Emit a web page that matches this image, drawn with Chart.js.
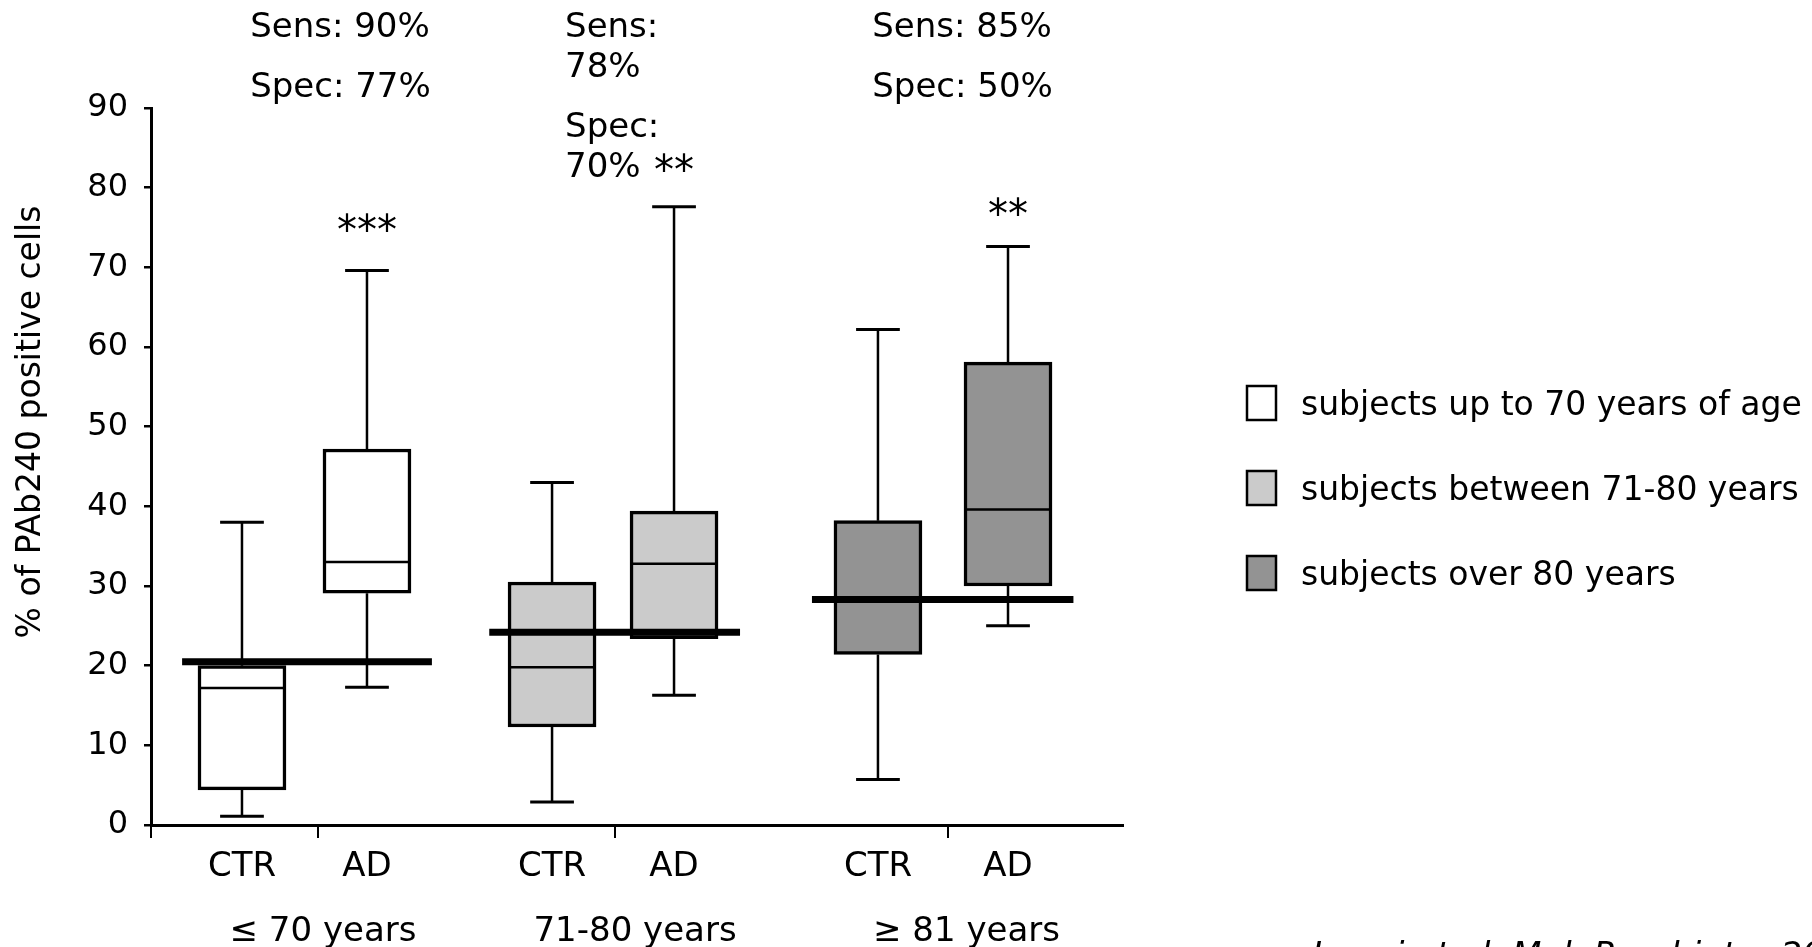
<!DOCTYPE html>
<html>
<head>
<meta charset="utf-8">
<title>PAb240 positive cells by age group</title>
<script src="https://cdn.jsdelivr.net/npm/chart.js@4.4.1/dist/chart.umd.min.js"></script>
<style>
  html, body { margin: 0; padding: 0; background: #fff; }
  canvas { display: block; }
</style>
</head>
<body>
<canvas id="chart" width="1812" height="947"></canvas>
<script>
const FONT = '"DejaVu Sans", Verdana, sans-serif';

const groupLabels = ['≤ 70 years', '71-80 years', '≥ 81 years'];
const legendLabels = ['subjects up to 70 years of age', 'subjects between 71-80 years', 'subjects over 80 years'];
const groupColors = ['#ffffff', '#cbcbcb', '#939393'];
const boxLabels = ['CTR', 'AD', 'CTR', 'AD', 'CTR', 'AD'];

// positions on a 0-100 x axis
const boxX = [9.36, 22.22, 41.26, 53.81, 74.79, 88.17];
const groupX = [17.7, 49.8, 83.9];
const groupTicks = [0, 17.2, 47.7, 82.0];
const statX = [10.2, 42.6, 74.2];

// box plot values (% of PAb240 positive cells)
const whiskerLow = [1.1, 17.3, 2.9, 16.3, 5.7, 25.0];
const q1 = [4.4, 29.1, 12.3, 23.4, 21.4, 30.0];
const median = [17.2, 33.0, 19.8, 32.8, 28.3, 39.6];
const q3 = [20.0, 47.2, 30.5, 39.4, 38.2, 58.1];
const whiskerHigh = [38.0, 69.6, 43.0, 77.6, 62.2, 72.6];

// cut-off line per age group
const cutoff = [20.5, 24.2, 28.3];
const cutoffFrom = [3.2, 34.8, 68.0];
const cutoffTo = [28.9, 60.6, 94.9];

const sens = ['90%', '78%', '85%'];
const spec = ['77%', '70%', '50%'];
const wrapStats = [false, true, false];
const stars = ['***', '**', '**'];
const starY = [72.9, 80.5, 75.0];

const BOX_HALF = 4.5;
const CAP_HALF = 2.25;

function segments(list) {
  const pts = [];
  list.forEach(([x1, y1, x2, y2]) => {
    pts.push({ x: x1, y: y1 }, { x: x2, y: y2 }, { x: x2, y: null });
  });
  return pts;
}

const whiskerSegs = [];
const capSegs = [];
const medianSegs = [];
boxX.forEach((c, i) => {
  whiskerSegs.push([c, whiskerLow[i], c, q1[i]], [c, q3[i], c, whiskerHigh[i]]);
  capSegs.push([c - CAP_HALF, whiskerLow[i], c + CAP_HALF, whiskerLow[i]],
               [c - CAP_HALF, whiskerHigh[i], c + CAP_HALF, whiskerHigh[i]]);
  medianSegs.push([c - BOX_HALF, median[i], c + BOX_HALF, median[i]]);
});
const cutoffSegs = cutoff.map((v, g) => [cutoffFrom[g], v, cutoffTo[g], v]);

const boxDatasets = groupLabels.map((_, g) => ({
  type: 'bar',
  label: legendLabels[g],
  data: [0, 1].map((k) => {
    const i = g * 2 + k;
    return { x: boxX[i], y: [q1[i], q3[i]] };
  }),
  backgroundColor: groupColors[g],
  borderColor: '#000',
  borderWidth: 3.5,
  borderSkipped: false,
  barThickness: 88,
  grouped: false,
  order: 3,
}));

function lineSet(label, segs, width, order) {
  return {
    type: 'line',
    label,
    data: segments(segs),
    borderColor: '#000',
    borderWidth: width,
    pointRadius: 0,
    tension: 0,
    spanGaps: false,
    order,
  };
}

const sideLegend = {
  id: 'sideLegend',
  afterDraw(chart) {
    const { ctx, chartArea } = chart;
    const left = chartArea.right + 124;
    ctx.save();
    ctx.font = `33px ${FONT}`;
    chart.data.datasets.filter((d) => d.type === 'bar').forEach((d, i) => {
      const cy = 403 + i * 85;
      ctx.fillStyle = d.backgroundColor;
      ctx.fillRect(left, cy - 17, 29, 34);
      ctx.strokeStyle = '#000';
      ctx.lineWidth = 2.5;
      ctx.strokeRect(left, cy - 17, 29, 34);
      ctx.fillStyle = '#000';
      ctx.textAlign = 'left';
      ctx.textBaseline = 'alphabetic';
      ctx.fillText(d.label, left + 54, cy + 12);
    });
    ctx.restore();
  },
};

const annotations = {
  id: 'annotations',
  afterDraw(chart) {
    const { ctx, chartArea, scales: { x, y } } = chart;
    ctx.save();
    ctx.fillStyle = '#000';
    ctx.font = `34px ${FONT}`;
    ctx.textBaseline = 'alphabetic';

    // sensitivity / specificity above each group
    ctx.textAlign = 'left';
    sens.forEach((s, g) => {
      const blocks = wrapStats[g]
        ? [['Sens:', s], ['Spec:', spec[g]]]
        : [['Sens: ' + s], ['Spec: ' + spec[g]]];
      let ty = 37;
      blocks.forEach((block) => {
        block.forEach((t) => {
          ctx.fillText(t, x.getPixelForValue(statX[g]), ty);
          ty += 40;
        });
        ty += 20;
      });
    });

    // CTR / AD and age group labels
    ctx.textAlign = 'center';
    boxLabels.forEach((t, i) => ctx.fillText(t, x.getPixelForValue(boxX[i]), chartArea.bottom + 51));
    groupLabels.forEach((t, g) => ctx.fillText(t, x.getPixelForValue(groupX[g]), chartArea.bottom + 116));

    // significance marks over the AD boxes
    ctx.font = `40px ${FONT}`;
    stars.forEach((s, g) => {
      ctx.fillText(s, x.getPixelForValue(boxX[g * 2 + 1]), y.getPixelForValue(starY[g]));
    });

    // y axis title
    ctx.save();
    ctx.translate(31, 422);
    ctx.rotate(-Math.PI / 2);
    ctx.font = `33px ${FONT}`;
    ctx.textBaseline = 'middle';
    ctx.fillText('% of PAb240 positive cells', 0, 0);
    ctx.restore();

    // source, cut by the bottom edge
    ctx.textAlign = 'left';
    ctx.font = `italic 34px ${FONT}`;
    ctx.fillText('Lanni et al. Mol. Psychiatry 2008', 1312, 966);
    ctx.restore();
  },
};

Chart.defaults.color = '#000';
Chart.defaults.font.family = FONT;

new Chart(document.getElementById('chart'), {
  type: 'bar',
  data: {
    datasets: [
      ...boxDatasets,
      lineSet('whiskers', whiskerSegs, 2.5, 1),
      lineSet('caps', capSegs, 3, 1),
      lineSet('medians', medianSegs, 2.5, 1),
      lineSet('cut-off', cutoffSegs, 7, 0),
    ],
  },
  options: {
    responsive: false,
    animation: false,
    devicePixelRatio: 1,
    layout: { padding: { left: 0, top: 108, right: 689, bottom: 0 } },
    plugins: {
      legend: { display: false },
      tooltip: { enabled: false },
    },
    scales: {
      x: {
        type: 'linear',
        min: 0,
        max: 100,
        offset: false,
        grid: { display: true, offset: false, drawOnChartArea: false, drawTicks: true, tickLength: 13, color: '#000', lineWidth: 2 },
        border: { display: true, color: '#000', width: 3 },
        ticks: { display: false },
        afterBuildTicks: (scale) => { scale.ticks = groupTicks.map((v) => ({ value: v })); },
        afterFit: (scale) => { scale.height = 122; },
      },
      y: {
        min: 0,
        max: 90,
        ticks: { stepSize: 10, padding: 16, color: '#000', font: { family: FONT, size: 32 } },
        grid: { drawOnChartArea: false, tickLength: 7, color: '#000', lineWidth: 2.5 },
        border: { display: true, color: '#000', width: 3 },
        afterFit: (scale) => { scale.width = 151; },
      },
    },
  },
  plugins: [annotations, sideLegend],
});
</script>
</body>
</html>
